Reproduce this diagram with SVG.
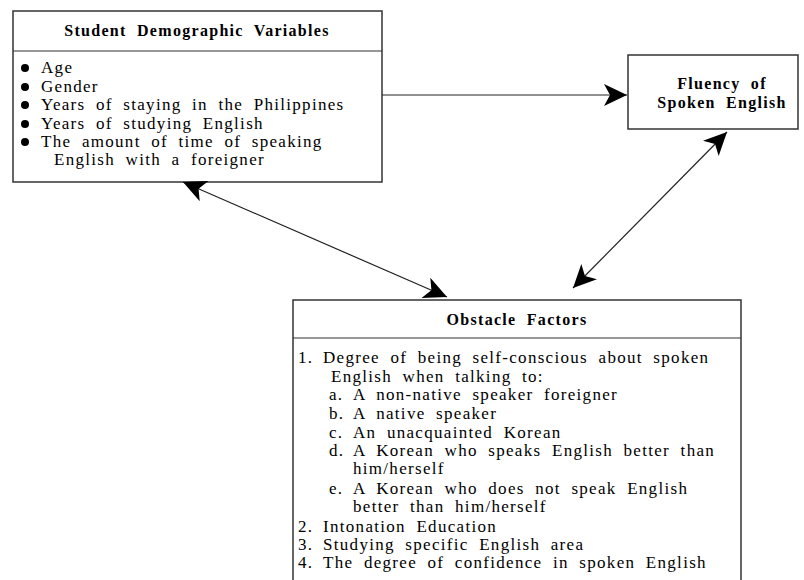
<svg xmlns="http://www.w3.org/2000/svg" width="804" height="580" viewBox="0 0 804 580">
<defs>
<marker id="ah" viewBox="-24 -12 25 24" refX="0" refY="0" markerWidth="25" markerHeight="24" markerUnits="userSpaceOnUse" orient="auto-start-reverse">
<path d="M0,0 L-23,-11 L-17,0 L-23,11 Z" fill="#000"/>
</marker>
<style>
.box{fill:#fff;stroke:#333;stroke-width:1.5}
.div{stroke:#333;stroke-width:1.2;fill:none}
.t{font-family:"Liberation Serif","Times New Roman",serif;font-weight:bold;font-size:16px;fill:#000;letter-spacing:1.3px;word-spacing:5px}
.b{font-family:"Liberation Serif","Times New Roman",serif;font-size:17px;fill:#000;letter-spacing:1.3px;word-spacing:5px}
.c{stroke:#222;stroke-width:1.2;fill:none}
</style>
</defs>
<rect width="804" height="580" fill="#fff"/>
<g id="demographics">
<rect class="box" x="13" y="11" width="369" height="171"/>
<line class="div" x1="13" y1="51" x2="382" y2="51"/>
<text class="t" x="197" y="36" text-anchor="middle">Student Demographic Variables</text>
<g fill="#000">
<circle cx="25" cy="68" r="4"/>
<circle cx="25" cy="87" r="4"/>
<circle cx="25" cy="105" r="4"/>
<circle cx="25" cy="124" r="4"/>
<circle cx="25" cy="142" r="4"/>
</g>
<text class="b" x="41" y="73">Age</text>
<text class="b" x="41" y="92">Gender</text>
<text class="b" x="41" y="110">Years of staying in the Philippines</text>
<text class="b" x="41" y="129">Years of studying English</text>
<text class="b" x="41" y="147">The amount of time of speaking</text>
<text class="b" x="54" y="165">English with a foreigner</text>
</g>
<g id="fluency">
<rect class="box" x="628" y="55" width="170" height="74"/>
<text class="t" x="722" y="89" text-anchor="middle">Fluency of</text>
<text class="t" x="722" y="108" text-anchor="middle">Spoken English</text>
</g>
<g id="obstacles">
<path class="box" d="M293,583 V300 H741 V583"/>
<line class="div" x1="293" y1="338" x2="741" y2="338"/>
<text class="t" x="517" y="325" text-anchor="middle">Obstacle Factors</text>
<text class="b" y="363"><tspan x="298">1.</tspan><tspan x="323">Degree of being self-conscious about spoken</tspan></text>
<text class="b" x="331" y="382">English when talking to:</text>
<text class="b" y="400"><tspan x="329">a.</tspan><tspan x="353">A non-native speaker foreigner</tspan></text>
<text class="b" y="419"><tspan x="329">b.</tspan><tspan x="353">A native speaker</tspan></text>
<text class="b" y="438"><tspan x="329">c.</tspan><tspan x="353">An unacquainted Korean</tspan></text>
<text class="b" y="456"><tspan x="329">d.</tspan><tspan x="353">A Korean who speaks English better than</tspan></text>
<text class="b" x="353" y="474">him/herself</text>
<text class="b" y="494"><tspan x="329">e.</tspan><tspan x="353">A Korean who does not speak English</tspan></text>
<text class="b" x="353" y="512">better than him/herself</text>
<text class="b" y="532"><tspan x="298">2.</tspan><tspan x="323">Intonation Education</tspan></text>
<text class="b" y="550"><tspan x="298">3.</tspan><tspan x="323">Studying specific English area</tspan></text>
<text class="b" y="568"><tspan x="298">4.</tspan><tspan x="323">The degree of confidence in spoken English</tspan></text>
</g>
<g id="connectors">
<line class="c" x1="382" y1="95" x2="627" y2="95" marker-end="url(#ah)"/>
<line class="c" x1="727" y1="132" x2="573" y2="288" marker-start="url(#ah)" marker-end="url(#ah)"/>
<line class="c" x1="183" y1="182" x2="447" y2="297" marker-start="url(#ah)" marker-end="url(#ah)"/>
</g>
</svg>
